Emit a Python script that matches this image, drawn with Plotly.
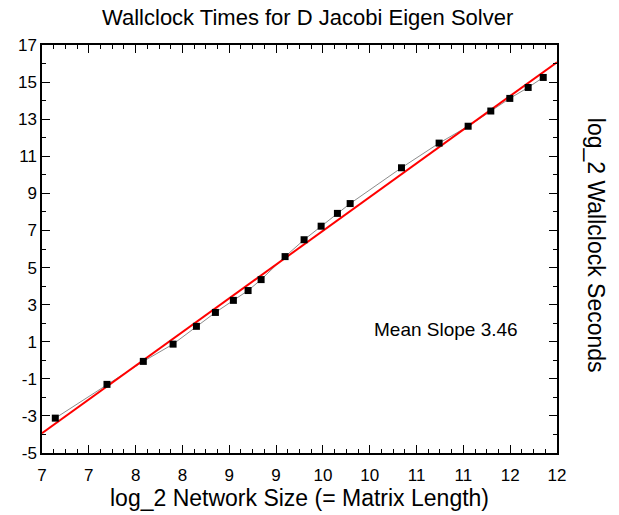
import plotly.graph_objects as go

# data
net_size = [7.142, 7.694, 8.082, 8.400, 8.649, 8.852, 9.044, 9.201, 9.340, 9.596,
            9.799, 9.981, 10.155, 10.291, 10.839, 11.241, 11.551, 11.793, 11.996,
            12.192, 12.353]
wall_time = [-3.12, -1.30, -0.06, 0.87, 1.83, 2.58, 3.23, 3.76, 4.35, 5.59,
             6.50, 7.23, 7.92, 8.45, 10.38, 11.71, 12.62, 13.44, 14.12,
             14.71, 15.25]
fit_x = [7.0, 12.5]
fit_y = [-3.93, 16.07]
x_tickvals = [7, 7.5, 8, 8.5, 9, 9.5, 10, 10.5, 11, 11.5, 12, 12.5]
x_ticktext = ["7", "7", "8", "8", "9", "9", "10", "10", "11", "11", "12", "12"]
y_tickvals = [-5, -3, -1, 1, 3, 5, 7, 9, 11, 13, 15, 17]
y_ticktext = ["-5", "-3", "-1", "1", "3", "5", "7", "9", "11", "13", "15", "17"]

FONT = "Liberation Sans, Arial, Helvetica, sans-serif"

fig = go.Figure()
fig.add_trace(go.Scatter(x=net_size, y=wall_time, mode="lines",
                         line=dict(color="#8c8c8c", width=1), showlegend=False))
fig.add_trace(go.Scatter(x=fit_x, y=fit_y, mode="lines",
                         line=dict(color="#ff0000", width=2), showlegend=False))
fig.add_trace(go.Scatter(x=net_size, y=wall_time, mode="markers",
                         marker=dict(symbol="square", size=7, color="black"),
                         showlegend=False))

fig.update_layout(
    width=619, height=515,
    margin=dict(l=42, r=62, t=45, b=60),
    paper_bgcolor="white", plot_bgcolor="white",
    font=dict(family=FONT, color="black"),
    title=dict(text="Wallclock Times for D Jacobi Eigen Solver",
               x=0.497, xanchor="center", y=0.966, yanchor="middle",
               font=dict(size=22, family=FONT)),
    xaxis=dict(range=[7, 12.5], tickmode="array", tickvals=x_tickvals,
               ticktext=x_ticktext, ticks="inside", ticklen=8, tickwidth=1,
               tickcolor="black", showline=True, linecolor="black", linewidth=1.5,
               mirror="ticks", showgrid=False, zeroline=False,
               tickfont=dict(size=17), ticklabelstandoff=6,
               minor=dict(ticks="inside", ticklen=4, tickwidth=1, tickcolor="black",
                          dtick=0.125, tick0=7, showgrid=False),
               title=dict(text="log_2 Network Size (= Matrix Length)",
                          font=dict(size=23), standoff=2)),
    yaxis=dict(range=[-5, 17], tickmode="array", tickvals=y_tickvals,
               ticktext=y_ticktext,
               ticks="inside", ticklen=8, tickwidth=1, tickcolor="black",
               showline=True, linecolor="black", linewidth=1.5, mirror="ticks",
               showgrid=False, zeroline=False, tickfont=dict(size=17),
               minor=dict(ticks="inside", ticklen=4, tickwidth=1, tickcolor="black",
                          dtick=1, tick0=-5, showgrid=False)),
)

fig.add_annotation(text="Mean Slope 3.46", x=11.31, y=1.65, xref="x", yref="y",
                   showarrow=False, font=dict(size=19, family=FONT))
fig.add_annotation(text="log_2 Wallclock Seconds", x=1.076, y=0.51, xref="paper",
                   yref="paper", textangle=90, showarrow=False,
                   xanchor="center", yanchor="middle",
                   font=dict(size=23, family=FONT))

fig.write_html("out.html")
